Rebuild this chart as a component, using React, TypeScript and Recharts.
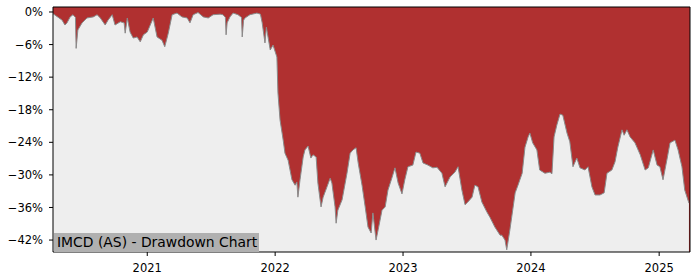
import React from "react";
import { AreaChart, Area, XAxis, YAxis, CartesianGrid } from "recharts";

const dates: string[] = [
  "2020-04-07","2020-05-03","2020-05-11","2020-05-17","2020-05-26","2020-06-03","2020-06-10","2020-06-12","2020-06-17","2020-06-29",
  "2020-07-13","2020-07-31","2020-08-11","2020-08-20","2020-09-03","2020-09-11","2020-09-23","2020-10-01","2020-10-16","2020-10-27",
  "2020-10-30","2020-11-05","2020-11-13","2020-11-22","2020-12-03","2020-12-12","2020-12-21","2021-01-01","2021-01-18","2021-01-29",
  "2021-02-12","2021-02-20","2021-03-02","2021-03-13","2021-03-27","2021-04-10","2021-04-25","2021-05-03","2021-05-12","2021-05-26",
  "2021-06-10","2021-06-24","2021-07-08","2021-07-28","2021-08-05","2021-08-12","2021-08-14","2021-08-17","2021-08-25","2021-09-03",
  "2021-09-17","2021-09-27","2021-09-29","2021-10-03","2021-10-07","2021-10-21","2021-11-10","2021-11-20","2021-11-25","2021-12-03",
  "2021-12-07","2021-12-18","2021-12-26","2022-01-06","2022-01-09","2022-01-15","2022-01-24","2022-01-29","2022-02-07","2022-02-18",
  "2022-02-27","2022-03-04","2022-03-07","2022-03-13","2022-03-22","2022-03-27","2022-04-05","2022-04-13","2022-04-19","2022-04-28",
  "2022-05-03","2022-05-12","2022-05-18","2022-05-29","2022-06-07","2022-06-12","2022-06-21","2022-06-24","2022-06-29","2022-07-11",
  "2022-07-25","2022-08-03","2022-08-11","2022-08-20","2022-08-26","2022-09-06","2022-09-15","2022-09-23","2022-10-02","2022-10-07",
  "2022-10-16","2022-10-22","2022-11-02","2022-11-11","2022-11-19","2022-12-01","2022-12-09","2022-12-18","2022-12-29","2023-01-06",
  "2023-01-15","2023-01-29","2023-02-07","2023-02-18","2023-02-27","2023-03-13","2023-03-27","2023-04-08","2023-04-22","2023-05-01",
  "2023-05-15","2023-05-29","2023-06-07","2023-06-18","2023-06-27","2023-07-05","2023-07-17","2023-07-25","2023-08-03","2023-08-14",
  "2023-08-28","2023-09-06","2023-09-20","2023-10-05","2023-10-10","2023-10-19","2023-10-24","2023-11-02","2023-11-17","2023-11-25",
  "2023-12-07","2023-12-15","2023-12-24","2023-12-29","2024-01-06","2024-01-18","2024-01-26","2024-02-10","2024-02-24","2024-03-01",
  "2024-03-07","2024-03-15","2024-03-24","2024-04-01","2024-04-13","2024-04-21","2024-04-30","2024-05-11","2024-05-20","2024-06-03",
  "2024-06-12","2024-06-23","2024-07-02","2024-07-16","2024-07-28","2024-08-05","2024-08-19","2024-08-28","2024-09-05","2024-09-17",
  "2024-09-23","2024-10-01","2024-10-10","2024-10-24","2024-11-08","2024-11-22","2024-12-01","2024-12-15","2024-12-26","2025-01-03",
  "2025-01-12","2025-01-24","2025-02-01","2025-02-15","2025-02-24","2025-03-07","2025-03-15","2025-03-27",
];

const drawdown: number[] = [
  -0.3,-1.5,-2.4,-2.0,-0.9,-0.5,-1.0,-6.7,-3.3,-2.0,
  -1.1,-0.9,-0.5,-1.1,-2.4,-1.5,-0.5,-2.4,-1.8,-2.0,
  -3.9,-1.1,-3.7,-4.8,-4.6,-5.5,-4.2,-3.7,-1.1,-4.6,
  -5.2,-6.4,-3.9,-0.5,-0.2,-0.9,-1.1,-2.0,-0.5,-0.1,
  -0.9,-1.1,-0.5,-0.4,-0.5,-1.0,-4.2,-2.0,-0.9,-0.2,
  -0.5,-1.0,-4.6,-1.5,-1.1,-0.5,-0.2,-0.4,-2.0,-5.7,
  -2.8,-7.0,-6.1,-8.3,-14.9,-19.9,-23.6,-26.0,-27.3,-30.9,
  -31.9,-31.3,-34.1,-30.9,-26.7,-25.4,-24.7,-26.9,-26.3,-26.7,
  -31.5,-35.9,-34.1,-32.2,-30.6,-31.5,-35.9,-38.9,-36.5,-34.6,
  -29.7,-26.0,-25.4,-25.0,-27.8,-31.9,-35.9,-39.6,-40.7,-37.0,
  -42.0,-40.1,-36.5,-35.9,-32.8,-30.4,-28.7,-31.5,-33.5,-30.9,
  -28.5,-28.2,-25.8,-26.0,-27.8,-28.2,-28.7,-28.6,-29.7,-32.2,
  -30.4,-29.5,-28.5,-32.8,-35.5,-35.0,-34.1,-31.9,-32.2,-35.0,
  -36.8,-37.8,-39.6,-41.1,-41.1,-42.0,-43.8,-40.1,-33.3,-31.9,
  -29.7,-24.9,-23.0,-22.3,-24.1,-25.4,-29.1,-29.7,-29.5,-29.8,
  -23.0,-20.8,-18.8,-19.0,-22.3,-23.9,-28.5,-26.9,-28.7,-29.1,
  -28.5,-32.2,-33.7,-33.7,-33.3,-29.7,-29.1,-27.6,-24.9,-21.7,
  -22.7,-21.7,-23.0,-24.1,-26.3,-29.1,-28.7,-25.4,-28.2,-28.5,
  -30.9,-26.9,-24.1,-23.6,-25.4,-28.5,-32.8,-35.2,
];

const yTicks: number[] = [0, -6, -12, -18, -24, -30, -36, -42];
const xTickYears: number[] = [2021, 2022, 2023, 2024, 2025];
const title = "IMCD (AS) - Drawdown Chart";

const Y_MIN = -44.2;
const Y_MAX = 0.92;
const X_MIN = Date.UTC(2020, 3, 7);
const X_MAX = Date.UTC(2025, 2, 30);

const data = dates.map((d, i) => ({ t: Date.parse(d + "T00:00:00Z"), v: drawdown[i] }));
const xTicks = xTickYears.map((y) => Date.UTC(y, 0, 1));

const FONT = "DejaVu Sans";
const tickStyle = { fontFamily: FONT, fontSize: 11.5, fill: "#000" };

export default function App() {
  return (
    <div style={{ position: "absolute", left: 0, top: 0, width: 700, height: 280, background: "#fff" }}>
      <AreaChart width={700} height={280} data={data} margin={{ top: 0, right: 0, bottom: 0, left: 0 }}>
        <CartesianGrid fill="#b03030" fillOpacity={1} stroke="none" horizontal={false} vertical={false} />
        <XAxis
          dataKey="t"
          type="number"
          scale="time"
          domain={[X_MIN, X_MAX]}
          ticks={xTicks}
          tickFormatter={(v: number) => String(new Date(v).getUTCFullYear())}
          height={28}
          tickSize={4}
          tickMargin={8}
          tick={tickStyle}
          stroke="#000"
          axisLine={{ stroke: "#000", strokeWidth: 1 }}
          tickLine={{ stroke: "#000" }}
          allowDataOverflow
        />
        <XAxis
          xAxisId="top"
          orientation="top"
          type="number"
          domain={[0, 1]}
          height={7}
          tick={false}
          tickLine={false}
          axisLine={{ stroke: "#000", strokeWidth: 1 }}
        />
        <YAxis
          type="number"
          domain={[Y_MIN, Y_MAX]}
          ticks={yTicks}
          tickFormatter={(v: number) => (v < 0 ? "\u2212" + Math.abs(v) : String(v)) + "%"}
          width={53}
          tickSize={4}
          tickMargin={6}
          tick={tickStyle}
          axisLine={{ stroke: "#000", strokeWidth: 1 }}
          tickLine={{ stroke: "#000" }}
          allowDataOverflow
        />
        <YAxis
          yAxisId="right"
          orientation="right"
          type="number"
          domain={[0, 1]}
          width={10}
          tick={false}
          tickLine={false}
          axisLine={{ stroke: "#000", strokeWidth: 1 }}
        />
        <Area
          dataKey="v"
          type="linear"
          baseValue={Y_MIN}
          fill="#eeeeee"
          fillOpacity={1}
          stroke="#8a8a8a"
          strokeWidth={1}
          isAnimationActive={false}
          dot={false}
          activeDot={false}
        />
      </AreaChart>
      <div
        style={{
          position: "absolute",
          left: 54,
          top: 233,
          height: 19,
          padding: "0 2px 0 3px",
          background: "#b0b0b0",
          fontFamily: FONT,
          fontSize: 13.9,
          lineHeight: "19px",
          color: "#000",
          whiteSpace: "nowrap",
        }}
      >
        {title}
      </div>
    </div>
  );
}
